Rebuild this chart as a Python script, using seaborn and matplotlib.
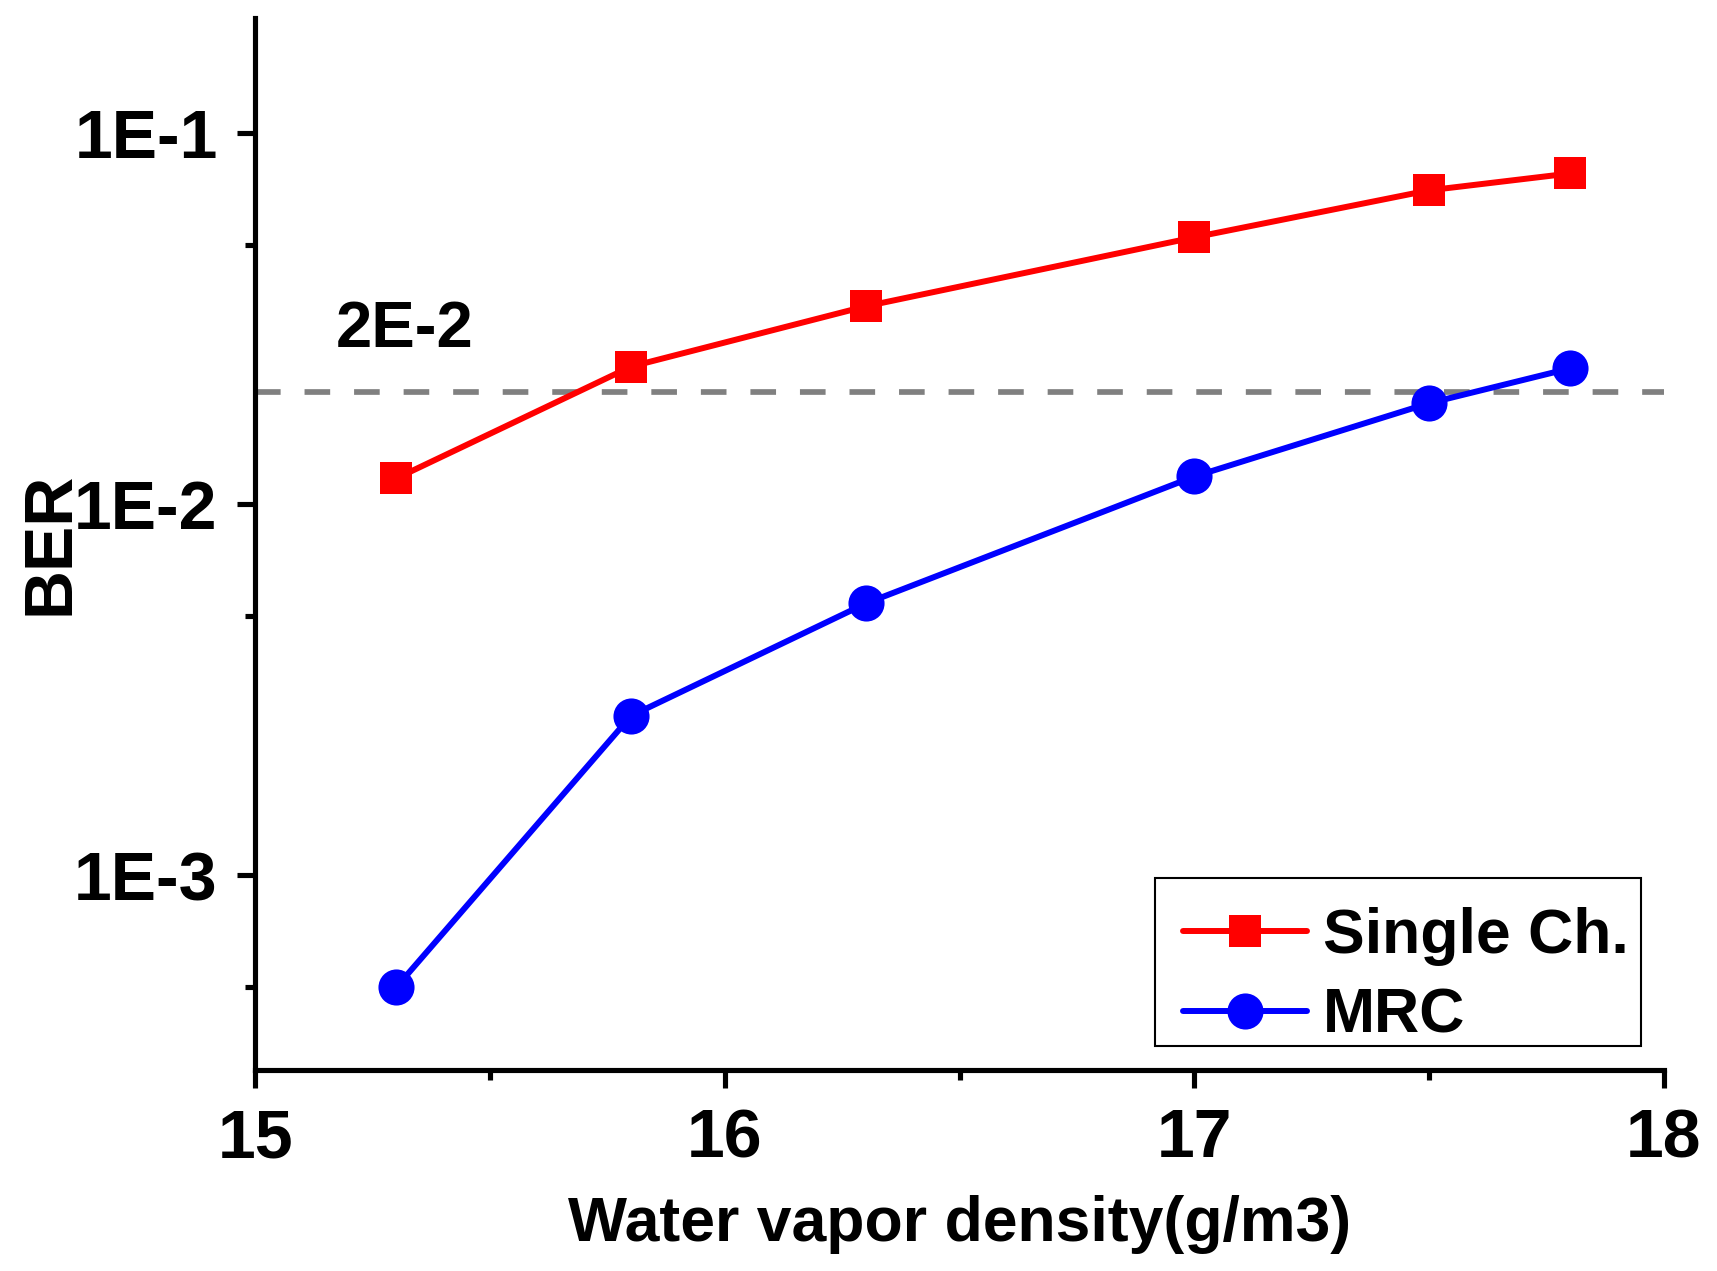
import seaborn as sns
import matplotlib.pyplot as plt
import matplotlib.ticker as mticker
from matplotlib.patches import Rectangle
import pandas as pd
import numpy as np

# Values
density = [15.3, 15.8, 16.3, 17.0, 17.5, 17.8]
ber_single = [0.01173, 0.02346, 0.0341, 0.0523, 0.0700, 0.0777]
ber_mrc = [5.0e-4, 0.00269, 0.0054, 0.01187, 0.0187, 0.0232]
threshold = 2e-2
threshold_label = "2E-2"
y_ticks = [1e-3, 1e-2, 1e-1]
y_tick_labels = ["1E-3", "1E-2", "1E-1"]
y_minor = [5e-4, 5e-3, 5e-2]
x_ticks = [15, 16, 17, 18]
x_minor = [15.5, 16.5, 17.5]

df = pd.DataFrame({"density": density, "single": ber_single, "mrc": ber_mrc})

sns.set_style("ticks")
plt.rcParams['font.family'] = ['Liberation Sans', 'DejaVu Sans']
plt.rcParams['font.weight'] = 'bold'
plt.rcParams['text.color'] = 'black'
plt.rcParams['axes.labelcolor'] = 'black'

fig = plt.figure(figsize=(17.17, 12.71), dpi=100)
ax = fig.add_axes([0.1488, 0.1585, 0.8203, 0.8273])

ax.axhline(threshold, color='#808080', lw=4.1, dashes=(4.5, 4.2), zorder=1)

sns.lineplot(data=df, x="density", y="single", ax=ax, color='red', lw=4.3,
             marker='s', markersize=23.5, markeredgewidth=0, label='Single Ch.', zorder=3)
sns.lineplot(data=df, x="density", y="mrc", ax=ax, color='blue', lw=4.3,
             marker='o', markersize=26, markeredgewidth=0, label='MRC', zorder=3)

ax.text(15.17, 0.0265, threshold_label, fontsize=47, fontweight='bold', color='black',
        va='baseline', ha='left')

ax.set_yscale('log')
ax.set_ylim(3.0e-4, 0.2037)
ax.set_xlim(15, 18)

ax.yaxis.set_major_locator(mticker.FixedLocator(y_ticks))
ax.yaxis.set_major_formatter(mticker.FixedFormatter(y_tick_labels))
ax.yaxis.set_minor_locator(mticker.FixedLocator(y_minor))
ax.yaxis.set_minor_formatter(mticker.NullFormatter())
ax.xaxis.set_major_locator(mticker.FixedLocator(x_ticks))
ax.xaxis.set_minor_locator(mticker.FixedLocator(x_minor))

for side in ['top', 'right']:
    ax.spines[side].set_visible(False)
for side in ['left', 'bottom']:
    ax.spines[side].set_linewidth(3.7)
    ax.spines[side].set_color('black')

ax.tick_params(which='major', length=13.2, width=3.7, labelsize=49, pad=14, colors='black')
ax.tick_params(which='minor', length=7.2, width=3.7, colors='black')
for lab in ax.get_xticklabels() + ax.get_yticklabels():
    lab.set_fontweight('bold')

ax.set_xlabel('Water vapor density(g/m3)', fontsize=45, fontweight='bold', labelpad=17)
ax.set_ylabel('BER', fontsize=49, fontweight='bold', labelpad=-6)

# legend box drawn separately so its padding matches the original
ax.add_patch(Rectangle((0.639, 0.0223), 0.3447, 0.1601, transform=ax.transAxes,
                       facecolor='white', edgecolor='black', lw=1.5, zorder=4.5))
leg = ax.legend(loc='upper left', bbox_to_anchor=(0.6585, 0.155), borderaxespad=0,
                fontsize=45, handlelength=1.98, handletextpad=0.26, borderpad=0,
                labelspacing=0.34, frameon=False)
leg.set_zorder(5)
for t in leg.get_texts():
    t.set_fontweight('bold')
    t.set_color('black')

fig.savefig('out.png', dpi=100)
